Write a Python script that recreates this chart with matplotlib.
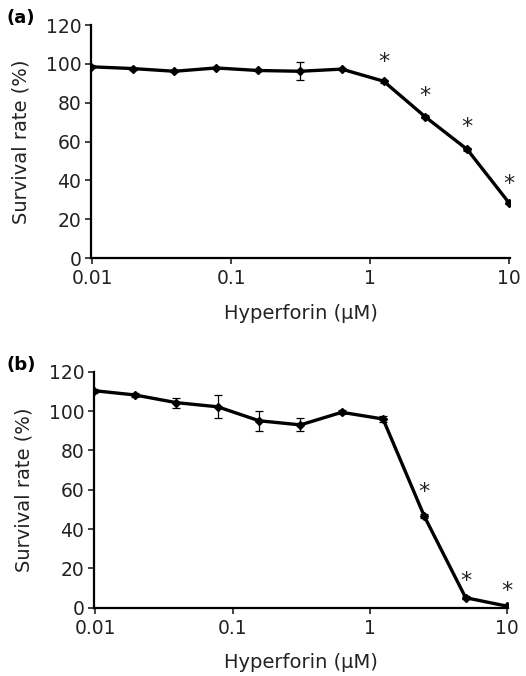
import matplotlib
matplotlib.use("Agg")
import matplotlib.pyplot as plt
import numpy as np

plt.rcParams['font.family'] = ['DejaVu Sans']

conc = [0.0098, 0.0195, 0.039, 0.078, 0.156, 0.3125, 0.625, 1.25, 2.5, 5, 10]

surv_a = [98.5, 97.6, 96.2, 97.9, 96.6, 96.2, 97.3, 91.1, 72.7, 56.0, 28.5]
err_a = [0.8, 0.5, 0.5, 0.5, 0.5, 4.7, 0.5, 0.8, 0.8, 0.8, 0.8]
star_a_x = [1.25, 2.5, 5, 10]
star_a_y = [101, 83.5, 67.5, 38.3]

surv_b = [110.4, 108.2, 104.3, 102.2, 95.1, 93.0, 99.4, 96.0, 46.5, 5.1, 0.8]
err_b = [1.0, 0.8, 2.5, 5.9, 5.2, 3.3, 1.0, 1.5, 1.0, 0.8, 0.5]
star_b_x = [2.5, 5, 10]
star_b_y = [59, 13.5, 8.5]

yticks = [0, 20, 40, 60, 80, 100, 120]
xticks = [0.01, 0.1, 1, 10]
xticklabels = ["0.01", "0.1", "1", "10"]

W, H = 526, 676
fig = plt.figure(figsize=(W / 100, H / 100), dpi=100)

def make_panel(rect, y, e, sx, sy):
    ax = fig.add_axes(rect)
    ax.errorbar(conc, y, yerr=e, color='black', lw=2.4, marker='D', ms=4.5,
                mfc='black', mec='black', ecolor='black', elinewidth=0.9,
                capsize=3, capthick=0.9)
    for xx, yy in zip(sx, sy):
        ax.text(xx, yy, '*', ha='center', va='center', fontsize=16, color='#222222')
    ax.set_xscale('log')
    ax.set_xlim(0.0098, 10.2)
    ax.set_ylim(0, 120)
    ax.set_yticks(yticks)
    ax.set_xticks(xticks)
    ax.set_xticklabels(xticklabels)
    ax.xaxis.set_minor_locator(matplotlib.ticker.NullLocator())
    for s in ['top', 'right']:
        ax.spines[s].set_visible(False)
    for s in ['left', 'bottom']:
        ax.spines[s].set_linewidth(1.6)
    ax.tick_params(axis='both', direction='out', length=4, width=1.2,
                   labelsize=13.5, colors='#222222', pad=4)
    ax.tick_params(axis='y', pad=3)
    ax.set_ylabel('Survival rate (%)', fontsize=14, labelpad=11, color='#222222')
    ax.set_xlabel('Hyperforin (μM)', fontsize=14, labelpad=11, color='#222222')
    return ax

ax1 = make_panel([0.173, 0.618, 0.797, 0.345], surv_a, err_a, star_a_x, star_a_y)
ax2 = make_panel([0.179, 0.101, 0.787, 0.349], surv_b, err_b, star_b_x, star_b_y)

fig.text(6 / W, 1 - 18 / H, '(a)', fontsize=13, fontweight='bold', va='center', ha='left')
fig.text(6 / W, 1 - 365 / H, '(b)', fontsize=13, fontweight='bold', va='center', ha='left')

fig.savefig('out.png', dpi=100)
